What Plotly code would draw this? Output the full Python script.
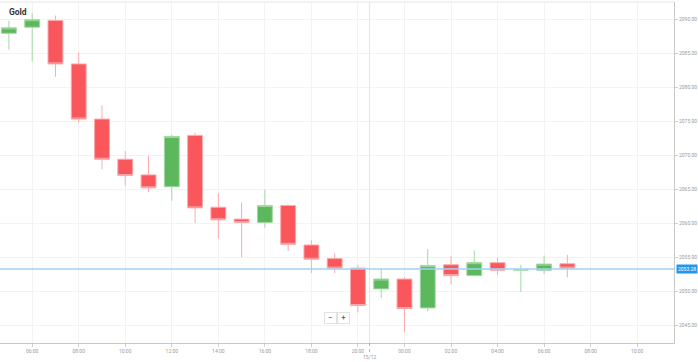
import plotly.graph_objects as go

times = [
    "2023-12-14 05:00", "2023-12-14 06:00", "2023-12-14 07:00", "2023-12-14 08:00",
    "2023-12-14 09:00", "2023-12-14 10:00", "2023-12-14 11:00", "2023-12-14 12:00",
    "2023-12-14 13:00", "2023-12-14 14:00", "2023-12-14 15:00", "2023-12-14 16:00",
    "2023-12-14 17:00", "2023-12-14 18:00", "2023-12-14 19:00", "2023-12-14 20:00",
    "2023-12-14 23:00", "2023-12-15 00:00", "2023-12-15 01:00", "2023-12-15 02:00",
    "2023-12-15 03:00", "2023-12-15 04:00", "2023-12-15 05:00", "2023-12-15 06:00",
    "2023-12-15 07:00",
]
open_ = [2087.9, 2088.8, 2089.8, 2083.4, 2075.3, 2069.4, 2067.1, 2065.35, 2072.9, 2062.35,
         2060.6, 2060.1, 2062.6, 2056.8, 2054.8, 2053.4, 2050.35, 2051.8, 2047.55, 2053.9,
         2052.3, 2054.2, 2053.1, 2053.1, 2054.05]
high = [2089.75, 2090.85, 2090.5, 2085.1, 2077.3, 2070.6, 2069.9, 2073.0, 2073.3, 2064.4,
        2063.05, 2064.95, 2062.7, 2057.5, 2055.55, 2053.9, 2053.3, 2052.1, 2056.2, 2055.15,
        2056.0, 2054.95, 2053.9, 2055.25, 2055.35]
low = [2085.5, 2083.8, 2081.5, 2074.75, 2067.9, 2065.5, 2064.55, 2063.3, 2060.0, 2057.75,
       2055.0, 2059.3, 2055.9, 2052.7, 2052.7, 2046.9, 2049.0, 2044.0, 2047.05, 2051.0,
       2052.3, 2052.4, 2049.9, 2052.55, 2052.05]
close = [2088.7, 2089.9, 2083.4, 2075.3, 2069.4, 2067.0, 2065.2, 2072.75, 2062.25, 2060.5,
         2060.1, 2062.6, 2056.9, 2054.7, 2053.4, 2047.9, 2051.8, 2047.45, 2053.8, 2052.3,
         2054.2, 2053.1, 2053.2, 2054.0, 2053.4]

current_price = 2053.28
title = "Gold"
x_ticks = ["2023-12-14 06:00", "2023-12-14 08:00", "2023-12-14 10:00", "2023-12-14 12:00",
           "2023-12-14 14:00", "2023-12-14 16:00", "2023-12-14 18:00", "2023-12-14 20:00",
           "2023-12-15 00:00", "2023-12-15 02:00", "2023-12-15 04:00", "2023-12-15 06:00",
           "2023-12-15 08:00", "2023-12-15 10:00"]
day_sep = "2023-12-14 20:30"
day_label = "15/12"

GREEN = "#5cb85c"
RED = "#fa575c"

fig = go.Figure(go.Candlestick(
    x=times, open=open_, high=high, low=low, close=close,
    increasing=dict(fillcolor=GREEN, line=dict(color="#a3d8a3", width=1)),
    decreasing=dict(fillcolor=RED, line=dict(color="#fbaaad", width=1)),
    whiskerwidth=0, hoverinfo="skip",
))

fig.update_layout(
    width=698, height=362,
    margin=dict(l=0, r=24, t=2, b=19, autoexpand=False),
    paper_bgcolor="white", plot_bgcolor="white",
    showlegend=False,
    boxgap=0.36, boxgroupgap=0,
    font=dict(family="Roboto", color="#999999"),
    xaxis=dict(
        type="date", automargin=False,
        range=["2023-12-14 04:37", "2023-12-15 11:35"],
        rangebreaks=[dict(pattern="hour", bounds=[21, 23])],
        rangeslider=dict(visible=False),
        tickvals=x_ticks, tickformat="%H:%M",
        tickfont=dict(size=5, color="#9a9a9a"),
        showgrid=True, gridcolor="#f3f3f3", gridwidth=1,
        showline=True, linecolor="#c8c8c8", linewidth=1,
        ticks="outside", ticklen=3, tickcolor="#d0d0d0",
        zeroline=False, fixedrange=True,
    ),
    yaxis=dict(
        side="right", automargin=False,
        range=[2042.4, 2092.5],
        dtick=5, tick0=2045, tickformat=".2f",
        tickfont=dict(size=5, color="#9a9a9a"),
        showgrid=True, gridcolor="#f3f3f3", gridwidth=1,
        showline=True, linecolor="#c8c8c8", linewidth=1,
        ticks="outside", ticklen=3, tickcolor="#d0d0d0",
        zeroline=False, fixedrange=True,
    ),
)

# top border
fig.add_shape(type="line", xref="paper", yref="paper", x0=0, x1=1, y0=1, y1=1,
              line=dict(color="#e6e6e6", width=1))
# day separator
fig.add_shape(type="line", xref="x", yref="paper", x0=day_sep, x1=day_sep, y0=0, y1=1,
              line=dict(color="#e4e4e4", width=1))
fig.add_shape(type="line", xref="x", yref="paper", x0=day_sep, x1=day_sep, y0=0, y1=-0.03,
              line=dict(color="#b0b0b0", width=1, dash="dot"))
fig.add_annotation(x=day_sep, y=-0.041, xref="x", yref="paper", text=day_label,
                   showarrow=False, yanchor="middle", borderpad=0,
                   font=dict(size=5, color="#9a9a9a"))
# current price line
fig.add_shape(type="line", xref="paper", yref="y", x0=0, x1=1, y0=current_price, y1=current_price,
              line=dict(color="#9fd3f7", width=1.5))
fig.add_annotation(x=1, y=current_price, xref="paper", yref="y", text=f"{current_price:.2f}",
                   showarrow=False, xanchor="left", xshift=2, bgcolor="#2196f3",
                   borderpad=1, font=dict(size=5, color="white"))
# title
fig.add_annotation(x=0.0265, y=0.972, xref="paper", yref="paper", text=f"<b>{title}</b>",
                   showarrow=False, xanchor="center", yanchor="middle",
                   font=dict(size=8.5, color="#333333", family="Roboto"))

# zoom buttons
fig.add_annotation(x=0.491, y=0.055, xref="paper", yref="paper", text="<b>−</b>",
                   showarrow=False, font=dict(size=7, color="#666666"),
                   bgcolor="white", bordercolor="#e2e2e2", borderwidth=1, borderpad=1, width=9)
fig.add_annotation(x=0.509, y=0.055, xref="paper", yref="paper", text="<b>+</b>",
                   showarrow=False, font=dict(size=7, color="#666666"),
                   bgcolor="white", bordercolor="#e2e2e2", borderwidth=1, borderpad=1, width=9)

fig.write_html("out.html", config={"displayModeBar": False},
               post_script="document.body.style.margin='0';")
